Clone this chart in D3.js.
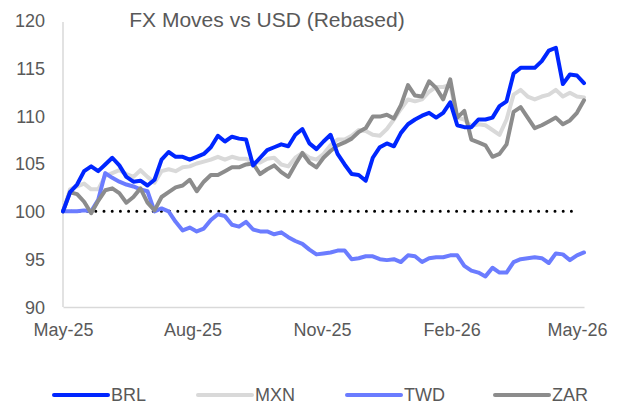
<!DOCTYPE html>
<html><head><meta charset="utf-8">
<script src="https://cdn.jsdelivr.net/npm/d3@7"></script>
<style>
html,body{margin:0;padding:0;background:#fff;}
svg{display:block;font-family:"Liberation Sans",Arial,sans-serif;}
</style></head>
<body><svg id="c" width="624" height="405"></svg>
<script>
const title = "FX Moves vs USD (Rebased)";
const dates = ["2025-05-01","2025-05-06","2025-05-11","2025-05-16","2025-05-21","2025-05-26","2025-05-31","2025-06-05","2025-06-10","2025-06-15",
"2025-06-20","2025-06-25","2025-06-30","2025-07-05","2025-07-10","2025-07-15","2025-07-20","2025-07-25","2025-07-30","2025-08-04",
"2025-08-09","2025-08-14","2025-08-19","2025-08-24","2025-08-29","2025-09-03","2025-09-08","2025-09-13","2025-09-18","2025-09-23",
"2025-09-28","2025-10-03","2025-10-08","2025-10-13","2025-10-18","2025-10-23","2025-10-28","2025-11-02","2025-11-07","2025-11-12",
"2025-11-17","2025-11-22","2025-11-27","2025-12-02","2025-12-07","2025-12-12","2025-12-17","2025-12-22","2025-12-27","2026-01-01",
"2026-01-06","2026-01-11","2026-01-16","2026-01-21","2026-01-26","2026-01-31","2026-02-05","2026-02-10","2026-02-15","2026-02-20",
"2026-02-25","2026-03-02","2026-03-07","2026-03-12","2026-03-17","2026-03-22","2026-03-27","2026-04-01","2026-04-06","2026-04-11",
"2026-04-16","2026-04-21","2026-04-26","2026-05-01","2026-05-06"];
const BRL = [100.0,102.0,102.8,104.2,104.7,104.2,104.9,105.6,104.8,103.6,
103.1,103.2,102.7,103.3,105.4,106.2,105.7,105.7,105.4,105.7,
106.0,106.7,107.9,107.3,107.8,107.6,107.5,104.8,105.6,106.4,
106.7,107.0,106.8,108.0,108.6,107.1,106.5,107.3,108.0,106.0,
104.9,103.9,103.8,103.2,105.6,106.7,107.1,106.8,108.2,109.1,
109.6,110.0,110.3,109.8,110.3,111.4,109.0,108.8,108.8,109.6,
109.6,109.8,111.0,111.5,114.4,115.0,115.0,115.0,115.7,116.8,
117.1,113.3,114.3,114.2,113.4];
const MXN = [100.0,102.3,102.6,102.9,102.3,102.3,103.7,104.0,104.3,103.9,
103.6,104.3,103.6,103.0,104.2,104.4,104.2,104.6,104.7,105.0,
105.2,105.4,105.7,105.4,105.7,105.5,105.5,105.1,105.1,105.5,
105.6,104.9,104.7,105.6,106.1,105.6,105.4,106.0,106.9,107.5,
107.5,107.9,108.5,108.4,108.0,107.9,108.6,109.6,110.7,111.7,
111.5,111.7,112.5,113.0,113.0,113.2,109.8,109.6,108.9,109.1,
109.0,108.5,108.0,109.6,112.2,112.7,112.0,111.7,112.0,112.2,
112.7,112.0,112.4,112.0,111.9];
const TWD = [100.0,100.0,100.0,100.1,100.0,101.2,104.0,103.5,103.1,102.8,
102.6,102.3,102.1,100.0,100.3,100.0,98.9,98.0,98.3,97.9,
98.2,99.1,99.7,99.5,98.6,98.4,98.9,98.1,97.9,97.9,
97.6,97.8,97.3,96.9,96.6,96.0,95.5,95.6,95.7,95.9,
95.9,95.0,95.1,95.3,95.3,95.0,94.9,95.0,94.7,95.4,
95.3,94.7,95.1,95.2,95.2,95.4,95.4,94.3,93.8,93.6,
93.2,94.1,93.6,93.6,94.7,95.0,95.1,95.2,95.1,94.6,
95.6,95.5,94.9,95.4,95.7];
const ZAR = [100.0,102.0,101.8,101.0,99.8,101.1,102.2,102.4,101.9,100.9,
101.5,102.4,100.9,100.1,101.5,102.0,102.5,102.7,103.3,102.1,
103.1,103.8,103.8,104.2,104.6,104.6,104.9,105.0,103.9,104.4,
104.8,104.1,103.6,104.9,106.1,105.1,104.6,105.6,106.3,106.9,
107.2,107.6,108.3,108.7,109.9,109.9,110.1,109.7,111.1,113.2,
112.1,112.0,113.6,112.9,111.7,113.8,109.8,110.5,107.5,107.2,
106.9,105.7,106.0,107.0,110.4,110.9,109.8,108.7,109.0,109.4,
109.8,109.1,109.5,110.3,111.6];
const yTicks = [90,95,100,105,110,115,120];
const xTickDates = ["2025-05-01","2025-08-01","2025-11-01","2026-02-01","2026-05-01"];
const baseline = 100;

const series = [
  {name:"MXN", values:MXN, color:"#d9d9d9"},
  {name:"TWD", values:TWD, color:"#6b7cff"},
  {name:"ZAR", values:ZAR, color:"#8c8c8c"},
  {name:"BRL", values:BRL, color:"#0026ff"}
];
const legendOrder = ["BRL","MXN","TWD","ZAR"];

const parse = d3.timeParse("%Y-%m-%d");
const dts = dates.map(parse);
const svg = d3.select("#c");
const x = d3.scaleTime().domain([parse("2025-05-01"), parse("2026-05-06")]).range([63, 584]);
const y = d3.scaleLinear().domain([90,120]).range([307,20]);

// axes
const yAxis = svg.append("g").attr("transform","translate(63,0)")
  .call(d3.axisLeft(y).tickValues(yTicks).tickSize(0).tickSizeOuter(0).tickPadding(18));
yAxis.select(".domain").attr("stroke","#d9d9d9").attr("stroke-width",1.5).attr("d","M0,22V307");
yAxis.selectAll("text").attr("font-size",18).attr("fill","#595959").attr("dy","0.36em")
  .attr("font-family","Liberation Sans, Arial, sans-serif");

const xAxis = svg.append("g").attr("transform","translate(0,307)")
  .call(d3.axisBottom(x).tickValues(xTickDates.map(parse)).tickFormat(d3.timeFormat("%b-%y")).tickSize(0).tickSizeOuter(0).tickPadding(16));
xAxis.select(".domain").attr("stroke","#d9d9d9").attr("stroke-width",1.5);
xAxis.selectAll("text").attr("font-size",18).attr("fill","#595959")
  .attr("font-family","Liberation Sans, Arial, sans-serif");

// baseline dotted
svg.append("line").attr("x1",x(dts[0])).attr("x2",x(parse("2026-05-01"))+2)
  .attr("y1",y(baseline)).attr("y2",y(baseline))
  .attr("stroke","#000").attr("stroke-width",3).attr("stroke-linecap","round")
  .attr("stroke-dasharray","0 8.2");

// lines
const line = d3.line().x((d,i)=>x(dts[i])).y(d=>y(d));
svg.append("g").selectAll("path").data(series).join("path")
  .attr("d",d=>line(d.values)).attr("fill","none").attr("stroke",d=>d.color)
  .attr("stroke-width",4).attr("stroke-linejoin","round").attr("stroke-linecap","round");

// title
svg.append("text").attr("x",267).attr("y",27).attr("text-anchor","middle")
  .attr("font-size",21).attr("fill","#595959").text(title);

// legend
const legX = [54,198,347,495];
const lg = svg.append("g");
legendOrder.forEach((n,i)=>{
  const s = series.find(d=>d.name===n);
  lg.append("line").attr("x1",legX[i]).attr("x2",legX[i]+54).attr("y1",395).attr("y2",395)
    .attr("stroke",s.color).attr("stroke-width",4).attr("stroke-linecap","round");
  lg.append("text").attr("x",legX[i]+57).attr("y",401).attr("font-size",18).attr("fill","#595959").text(n);
});
</script></body></html>
